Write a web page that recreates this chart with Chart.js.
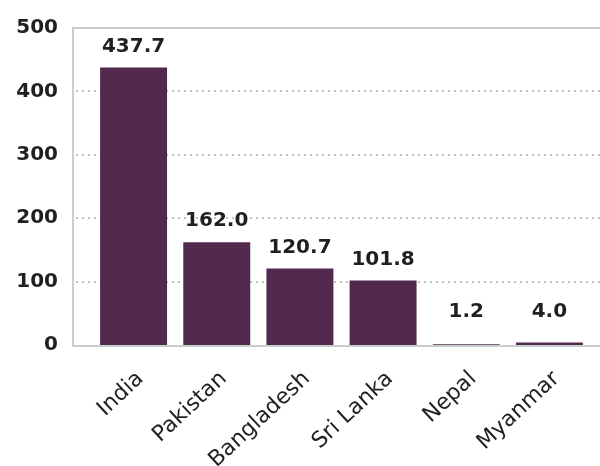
<!DOCTYPE html>
<html>
<head>
<meta charset="utf-8">
<script src="https://cdn.jsdelivr.net/npm/chart.js"></script>
<style>
  html, body { margin: 0; padding: 0; background: #fff; }
  #wrap { width: 600px; height: 466px; }
</style>
</head>
<body>
<div id="wrap"><canvas id="chart"></canvas></div>
<script>
// chart data
const countries = ['India', 'Pakistan', 'Bangladesh', 'Sri Lanka', 'Nepal', 'Myanmar'];
const values = [437.7, 162.0, 120.7, 101.8, 1.2, 4.0];
const yTicks = [0, 100, 200, 300, 400, 500];

const barColor = '#52284c';
const frameColor = '#c6cfcc';
const textColor = '#231f20';

// frame + dotted grid, drawn a bit wider than the plot area
const framePlugin = {
  id: 'frame',
  beforeDatasetsDraw(chart) {
    const ctx = chart.ctx;
    const y = chart.scales.y;
    const left = 73, right = chart.width;
    ctx.save();
    ctx.strokeStyle = '#b9c3c0';
    ctx.lineWidth = 2;
    ctx.setLineDash([2, 4]);
    yTicks.forEach(v => {
      if (v === 0 || v === 500) return;
      const py = Math.round(y.getPixelForValue(v));
      ctx.beginPath();
      ctx.moveTo(left + 3, py);
      ctx.lineTo(right, py);
      ctx.stroke();
    });
    ctx.setLineDash([]);
    ctx.strokeStyle = frameColor;
    ctx.lineWidth = 2;
    const top = y.getPixelForValue(500);
    const bottom = y.getPixelForValue(0) + 1;
    ctx.beginPath();
    ctx.moveTo(right, top);
    ctx.lineTo(left, top);
    ctx.lineTo(left, bottom);
    ctx.lineTo(right, bottom);
    ctx.stroke();
    ctx.restore();
  }
};

// value labels above the bars
const valueLabels = {
  id: 'valueLabels',
  afterDatasetsDraw(chart) {
    const ctx = chart.ctx;
    const meta = chart.getDatasetMeta(0);
    ctx.save();
    ctx.font = 'bold 20px "DejaVu Sans"';
    ctx.fillStyle = textColor;
    ctx.textAlign = 'center';
    ctx.textBaseline = 'middle';
    meta.data.forEach((bar, i) => {
      const top = Math.min(bar.y, 333);
      ctx.fillText(values[i].toFixed(1), bar.x, top - 21);
    });
    ctx.restore();
  }
};

new Chart(document.getElementById('chart'), {
  type: 'bar',
  data: {
    labels: countries,
    datasets: [{
      data: values,
      backgroundColor: barColor,
      barPercentage: 0.805,
      categoryPercentage: 1
    }]
  },
  options: {
    responsive: true,
    maintainAspectRatio: false,
    animation: false,
    layout: { padding: { top: 28, right: 9, left: 0, bottom: 0 } },
    plugins: { legend: { display: false }, tooltip: { enabled: false } },
    scales: {
      x: {
        grid: { display: false, drawTicks: false },
        border: { display: false },
        ticks: {
          color: textColor,
          font: { family: 'DejaVu Sans', size: 22 },
          maxRotation: 43,
          minRotation: 43,
          padding: 21,
          labelOffset: 7
        },
        afterFit(scale) { scale.height = 121; }
      },
      y: {
        min: 0,
        max: 500,
        afterBuildTicks(scale) { scale.ticks = yTicks.map(v => ({ value: v })); },
        grid: { display: false, drawTicks: false },
        border: { display: false },
        ticks: {
          color: textColor,
          font: { family: 'DejaVu Sans', size: 20, weight: 'bold' },
          padding: 34
        },
        afterFit(scale) {
          scale.width = 92;
          scale.paddingTop = 12;
          scale.paddingBottom = 12;
        }
      }
    }
  },
  plugins: [framePlugin, valueLabels]
});
</script>
</body>
</html>
